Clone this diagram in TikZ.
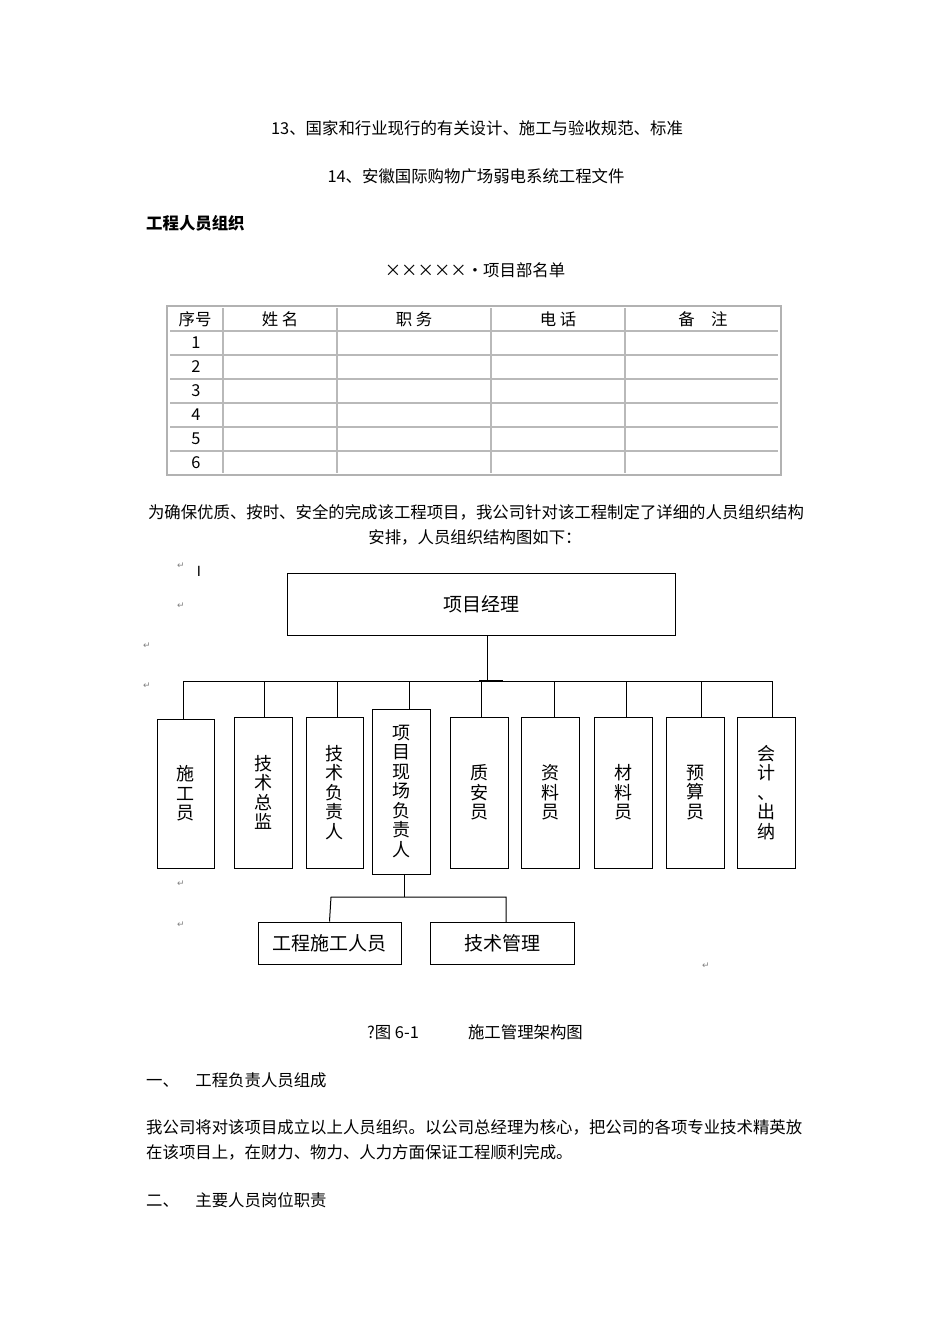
\documentclass[tikz,border=0pt]{standalone}
\usepackage{fontspec}
\setmainfont{Noto Sans CJK SC}
\newfontfamily\sym{DejaVu Sans}
\begin{document}
\begin{tikzpicture}[x=1pt,y=-1pt,
  body/.style={font=\fontsize{16.4}{18}\selectfont,inner sep=0pt},
  bx/.style={draw,line width=1pt,inner sep=0pt},
  vtxt/.style={font=\fontsize{18}{19.5}\selectfont,align=center,inner sep=0pt},
  ln/.style={line width=1pt},
  tl/.style={draw=gray!55,line width=1.6pt},
  mk/.style={font=\sym\fontsize{9}{9}\selectfont,text=gray,inner sep=0pt}]
\useasboundingbox (0,0) rectangle (950,1344);
\node[body] (l13) at (477,128) {13、国家和行业现行的有关设计、施工与验收规范、标准};
\node[body] (l14) at (476,176) {14、安徽国际购物广场弱电系统工程文件};
\node[body,anchor=west,font=\bfseries\fontsize{16.4}{18}\selectfont] (h1) at (146,223) {工程人员组织};
\node[body] (tt) at (475,270) {×××××·项目部名单};
% table
\draw[draw=gray!60,line width=2.5pt] (167,306) rectangle (781,475);
\foreach \y in {331,355,379,403,427,451} \draw[tl] (170,\y) -- (778,\y);
\foreach \x in {223,337,491,625} \draw[tl] (\x,308) -- (\x,473);
\foreach \t/\x in {序号/195,姓\ 名/280,职\ 务/414,电\ 话/558,备\quad 注/703}
  \node[body] at (\x,319) {\t};
\foreach \n [count=\i] in {1,...,6} \node[body] at (196,319+24*\i) {\n};
\node[body] (p1) at (476,512) {为确保优质、按时、安全的完成该工程项目，我公司针对该工程制定了详细的人员组织结构};
\node[body] (p2) at (475,537) {安排，人员组织结构图如下：};
% org chart
\node[bx,minimum width=388pt,minimum height=62pt] (pm) at (481,604) {\fontsize{19}{20}\selectfont 项目经理};
\coordinate (j) at (487,681);
\draw[ln] (pm.south -| j) -- (j);
\draw[ln] (183,681) -- (772,681);
\draw[line width=2.5pt] (479,681) -- (503,681);
\foreach \nm/\cx/\w/\t/\b/\dx/\txt in {
  a/185.5/57/719/868/183/{施\\工\\员},
  b/263/58/717/868/264/{技\\术\\总\\监},
  c/334.5/57/717/868/337/{技\\术\\负\\责\\人},
  d/401/58/709/874/409/{项\\目\\现\\场\\负\\责\\人},
  e/479/58/717/868/481/{质\\安\\员},
  f/550/58/717/868/554/{资\\料\\员},
  g/623/58/717/868/626/{材\\料\\员},
  h/695/58/717/868/701/{预\\算\\员},
  i/766/58/717/868/772/{会\\计\\、\\出\\纳}}{
  \node[bx,minimum width=\w pt,minimum height={(\b-\t)*1pt}] (\nm) at (\cx,{(\t+\b)/2}) {};
  \node[vtxt] at (\nm) {\txt};
  \draw[ln] (\dx,681) -- (\dx,\t);
}
\node[bx,minimum width=143pt,minimum height=42pt] (w) at (329.5,943) {\fontsize{19}{20}\selectfont 工程施工人员};
\node[bx,minimum width=144pt,minimum height=42pt] (t) at (502,943) {\fontsize{19}{20}\selectfont 技术管理};
\draw[ln] (d.south -| 404,0) -- (404,897);
\draw[ln] (w.north) -- (331,897) -- (506,897) -- (506,922);
% marks
\foreach \x/\y in {181/566,181/606,147/646,147/686,181/884,181/925,706/966}
  \node[mk] at (\x,\y) {↵};
\node[font=\sym\fontsize{14}{14}\selectfont,inner sep=0pt] at (199,571) {I};
\node[body] (cap) at (475,1032) {?图 6-1\qquad\quad 施工管理架构图};
\node[body,anchor=west] (s1) at (146,1080) {一、\quad 工程负责人员组成};
\node[body,anchor=west] (q1) at (146,1127) {我公司将对该项目成立以上人员组织。以公司总经理为核心，把公司的各项专业技术精英放};
\node[body,anchor=west] (q2) at (146,1152) {在该项目上，在财力、物力、人力方面保证工程顺利完成。};
\node[body,anchor=west] (s2) at (146,1200) {二、\quad 主要人员岗位职责};
\end{tikzpicture}
\end{document}
